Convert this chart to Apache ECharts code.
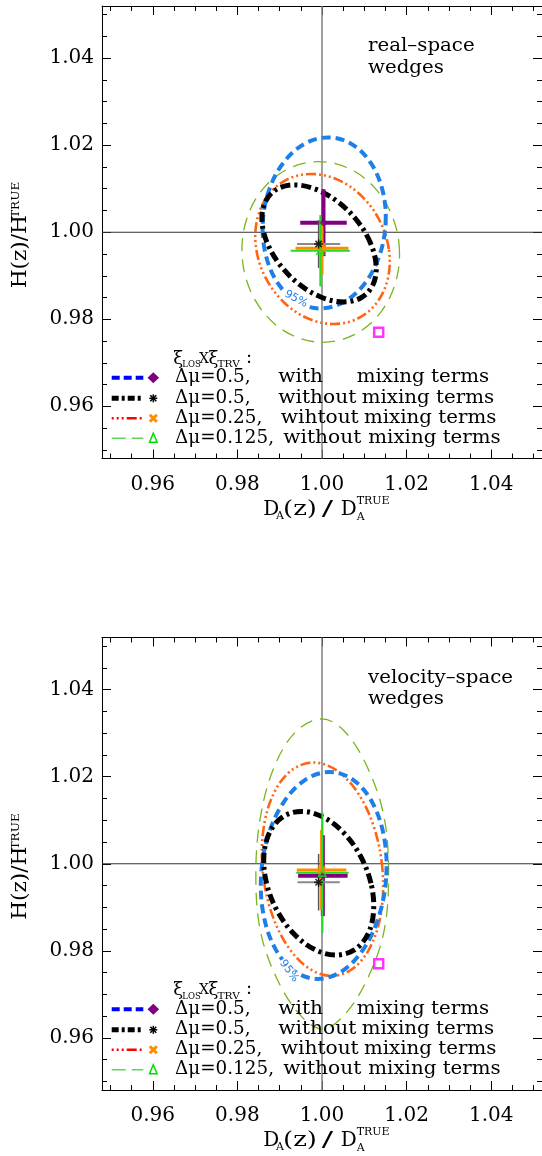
<!DOCTYPE html>
<html>
<head>
<meta charset="utf-8">
<script src="https://cdn.jsdelivr.net/npm/echarts@6/dist/echarts.min.js"></script>
<style>
  html, body { margin: 0; padding: 0; background: #ffffff; }
  #chart { width: 542px; height: 1156px; }
</style>
</head>
<body>
<div id="chart"></div>
<script>
// ---- axis ticks ----
const majorTicks = [0.96, 0.98, 1.00, 1.02, 1.04];
const minorTicks = [0.950, 0.955, 0.960, 0.965, 0.970, 0.975, 0.980, 0.985, 0.990, 0.995,
                    1.000, 1.005, 1.010, 1.015, 1.020, 1.025, 1.030, 1.035, 1.040, 1.045, 1.050];
const axisMin = 0.948;
const axisMax = 1.052;

// ---- 95% contours, real-space wedges: [D_A ratio, H ratio] ----
const realBlue = [[1.01504,1.00214],[1.01430,1.00966],[1.01145,1.01604],[1.00695,1.02030],[1.00146,1.02180],[0.99583,1.02030],[0.99092,1.01604],[0.98747,1.00966],[0.98600,1.00214],[0.98675,0.99462],[0.98959,0.98824],[0.99410,0.98398],[0.99958,0.98248],[1.00521,0.98398],[1.01012,0.98824],[1.01358,0.99462]];
const realBlack = [[1.01150,0.99743],[1.00835,1.00258],[1.00382,1.00694],[0.99860,1.00986],[0.99349,1.01088],[0.98926,1.00986],[0.98657,1.00694],[0.98581,1.00258],[0.98710,0.99743],[0.99025,0.99228],[0.99478,0.98792],[1.00000,0.98500],[1.00511,0.98398],[1.00934,0.98500],[1.01204,0.98792],[1.01280,0.99228]];
const realOrange = [[1.01579,0.99616],[1.01358,1.00276],[1.00933,1.00835],[1.00367,1.01209],[0.99747,1.01340],[0.99168,1.01209],[0.98717,1.00835],[0.98463,1.00276],[0.98445,0.99616],[0.98666,0.98956],[0.99091,0.98397],[0.99657,0.98023],[1.00277,0.97892],[1.00857,0.98023],[1.01307,0.98397],[1.01561,0.98956]];
const realGreen = [[1.01832,0.99547],[1.01672,1.00342],[1.01253,1.01015],[1.00639,1.01465],[0.99923,1.01623],[0.99214,1.01465],[0.98620,1.01015],[0.98232,1.00342],[0.98108,0.99547],[0.98268,0.98752],[0.98687,0.98079],[0.99301,0.97629],[1.00017,0.97471],[1.00726,0.97629],[1.01320,0.98079],[1.01708,0.98752]];

// ---- 95% contours, velocity-space wedges ----
const velBlue = [[1.01520,0.99731],[1.01461,1.00642],[1.01186,1.01413],[1.00736,1.01929],[1.00180,1.02110],[0.99603,1.01929],[0.99093,1.01413],[0.98726,1.00642],[0.98560,0.99731],[0.98619,0.98820],[0.98895,0.98049],[0.99344,0.97533],[0.99900,0.97352],[1.00477,0.97533],[1.00988,0.98049],[1.01354,0.98820]];
const velBlack = [[1.01157,0.99552],[1.00906,1.00184],[1.00506,1.00719],[1.00017,1.01077],[0.99513,1.01203],[0.99072,1.01077],[0.98761,1.00719],[0.98626,1.00184],[0.98689,0.99552],[0.98940,0.98920],[0.99340,0.98385],[0.99830,0.98027],[1.00333,0.97901],[1.00774,0.98027],[1.01086,0.98385],[1.01220,0.98920]];
const velOrange = [[1.01429,0.99874],[1.01238,1.00813],[1.00860,1.01609],[1.00353,1.02140],[0.99794,1.02327],[0.99268,1.02140],[0.98856,1.01609],[0.98619,1.00813],[0.98595,0.99874],[0.98786,0.98935],[0.99164,0.98139],[0.99671,0.97608],[1.00230,0.97421],[1.00756,0.97608],[1.01168,0.98139],[1.01405,0.98935]];
const velGreen = [[1.01574,0.99766],[1.01455,1.01130],[1.01040,1.02285],[1.00520,1.03058],[1.00005,1.03329],[0.99405,1.03058],[0.98896,1.02285],[0.98555,1.01130],[0.98436,0.99766],[0.98555,0.98402],[0.98990,0.97247],[0.99530,0.96474],[1.00005,0.96203],[1.00480,0.96474],[1.01020,0.97247],[1.01455,0.98402]];

// ---- best fits with 1-sigma errors: [x, y, xErr, yErr] ----
const realWithMix    = [1.00035, 1.00220, 0.00550, 0.00770];
const realNoMix05    = [0.99920, 0.99730, 0.00510, 0.00550];
const realNoMix025   = [1.00000, 0.99630, 0.00625, 0.00600];
const realNoMix0125  = [0.99960, 0.99575, 0.00700, 0.00820];
const velWithMix     = [1.00020, 0.99726, 0.00585, 0.00930];
const velNoMix05     = [0.99920, 0.99575, 0.00500, 0.00650];
const velNoMix025    = [0.99990, 0.99857, 0.00585, 0.00920];
const velNoMix0125   = [1.00010, 0.99795, 0.00620, 0.01380];

// ---- fiducial-cosmology point ----
const fiducialPoint = [1.0134, 0.9770];

// ---- text ----
const panelTitles = [['real\u2013space', 'wedges'], ['velocity\u2013space', 'wedges']];
const legendPrefix = ['\u0394\u03bc=0.5,', '\u0394\u03bc=0.5,', '\u0394\u03bc=0.25,', '\u0394\u03bc=0.125,'];
const legendMiddle = ['with', 'without', 'wihtout', 'without'];
const legendSuffix = ['mixing terms', 'mixing terms', 'mixing terms', 'mixing terms'];

// ---- styling ----
const FONT = '"DejaVu Serif", serif';
const C = {
  blue: '#1E80E6', black: '#000000', orange: '#FF6414', green: '#7AB41E',
  purple: '#800080', barOrange: '#FF8C00', barGreen: '#22DD22', grey: '#8A8A8A',
  magenta: '#FF00FF'
};
const GRID_TOP = [6, 637.5];
const GRID_H = 452.5;
const GRID_LEFT = 102;
const GRID_W = 444;

function xAxes(g) {
  const base = { type: 'value', gridIndex: g, min: axisMin, max: axisMax, splitLine: { show: false } };
  return [
    Object.assign({}, base, {
      position: 'bottom',
      axisLine: { show: true, onZero: false, lineStyle: { color: '#000', width: 1 } },
      axisTick: { show: true, inside: true, length: 9, customValues: majorTicks, lineStyle: { color: '#000', width: 1 } },
      axisLabel: { show: true, customValues: majorTicks, formatter: v => v.toFixed(2), margin: 16,
                   color: '#000', fontFamily: FONT, fontSize: 20 }
    }),
    Object.assign({}, base, {
      position: 'bottom',
      axisLine: { show: false, onZero: false },
      axisTick: { show: true, inside: true, length: 5, customValues: minorTicks, lineStyle: { color: '#000', width: 1 } },
      axisLabel: { show: false }
    }),
    Object.assign({}, base, {
      position: 'top',
      axisLine: { show: true, onZero: false, lineStyle: { color: '#000', width: 1 } },
      axisTick: { show: true, inside: true, length: 9, customValues: majorTicks, lineStyle: { color: '#000', width: 1 } },
      axisLabel: { show: false }
    }),
    Object.assign({}, base, {
      position: 'top',
      axisLine: { show: false, onZero: false },
      axisTick: { show: true, inside: true, length: 5, customValues: minorTicks, lineStyle: { color: '#000', width: 1 } },
      axisLabel: { show: false }
    })
  ];
}
function yAxes(g) {
  const base = { type: 'value', gridIndex: g, min: axisMin, max: axisMax, splitLine: { show: false } };
  return [
    Object.assign({}, base, {
      position: 'left',
      axisLine: { show: true, onZero: false, lineStyle: { color: '#000', width: 1 } },
      axisTick: { show: true, inside: true, length: 9, customValues: majorTicks, lineStyle: { color: '#000', width: 1 } },
      axisLabel: { show: true, customValues: majorTicks, formatter: v => v.toFixed(2), margin: 8,
                   color: '#000', fontFamily: FONT, fontSize: 20 }
    }),
    Object.assign({}, base, {
      position: 'left',
      axisLine: { show: false, onZero: false },
      axisTick: { show: true, inside: true, length: 5, customValues: minorTicks, lineStyle: { color: '#000', width: 1 } },
      axisLabel: { show: false }
    }),
    Object.assign({}, base, {
      position: 'right',
      axisLine: { show: true, onZero: false, lineStyle: { color: '#000', width: 1 } },
      axisTick: { show: true, inside: true, length: 9, customValues: majorTicks, lineStyle: { color: '#000', width: 1 } },
      axisLabel: { show: false }
    }),
    Object.assign({}, base, {
      position: 'right',
      axisLine: { show: false, onZero: false },
      axisTick: { show: true, inside: true, length: 5, customValues: minorTicks, lineStyle: { color: '#000', width: 1 } },
      axisLabel: { show: false }
    })
  ];
}

// closed, smoothed contour through the given points
function contourSeries(pts, g, color, width, dash) {
  return {
    type: 'custom', xAxisIndex: 4 * g, yAxisIndex: 4 * g, data: pts, z: 3, silent: true, clip: true,
    renderItem: (params, api) => {
      if (params.dataIndex !== 0) return null;
      const points = pts.map(p => api.coord(p));
      return {
        type: 'polygon',
        shape: { points: points, smooth: 0.35 },
        style: { fill: 'none', stroke: color, lineWidth: width, lineDash: dash }
      };
    }
  };
}

// horizontal and vertical error bars around a best fit
function crossSeries(rec, g, hColor, hWidth, vColor, vWidth) {
  return {
    type: 'custom', xAxisIndex: 4 * g, yAxisIndex: 4 * g, data: [rec], z: 4, silent: true,
    dimensions: ['x', 'y', 'ex', 'ey'], encode: { x: 0, y: 1 },
    renderItem: (params, api) => {
      const x = api.value(0), y = api.value(1), ex = api.value(2), ey = api.value(3);
      const l = api.coord([x - ex, y]), r = api.coord([x + ex, y]);
      const t = api.coord([x, y + ey]), b = api.coord([x, y - ey]);
      return {
        type: 'group',
        children: [
          { type: 'line', shape: { x1: t[0], y1: t[1], x2: b[0], y2: b[1] }, style: { stroke: vColor, lineWidth: vWidth } },
          { type: 'line', shape: { x1: l[0], y1: l[1], x2: r[0], y2: r[1] }, style: { stroke: hColor, lineWidth: hWidth } }
        ]
      };
    }
  };
}

const STAR = 'path://M5 0L5 10M0 5L10 5M1.5 1.5L8.5 8.5M8.5 1.5L1.5 8.5';
const XMARK = 'path://M0 0L10 10M10 0L0 10';

function markerSeries(rec, g, symbol, size, style) {
  return {
    type: 'scatter', xAxisIndex: 4 * g, yAxisIndex: 4 * g, z: 5, silent: true,
    data: [[rec[0], rec[1]]], symbol: symbol, symbolSize: size, itemStyle: style
  };
}

function refLines(g) {
  return [
    { type: 'line', xAxisIndex: 4 * g, yAxisIndex: 4 * g, z: 1, silent: true, showSymbol: false,
      data: [[1.0, axisMin], [1.0, axisMax]], lineStyle: { color: '#808080', width: 1.5 } },
    { type: 'line', xAxisIndex: 4 * g, yAxisIndex: 4 * g, z: 1, silent: true, showSymbol: false,
      data: [[axisMin, 1.0], [axisMax, 1.0]], lineStyle: { color: '#333333', width: 1 } }
  ];
}

const panels = [
  { contours: [realGreen, realOrange, realBlue, realBlack],
    fits: [realWithMix, realNoMix05, realNoMix025, realNoMix0125] },
  { contours: [velGreen, velOrange, velBlue, velBlack],
    fits: [velWithMix, velNoMix05, velNoMix025, velNoMix0125] }
];

const series = [];
panels.forEach((p, g) => {
  series.push(...refLines(g));
  series.push(contourSeries(p.contours[0], g, C.green, 1.3, [13, 8]));
  series.push(contourSeries(p.contours[1], g, C.orange, 2.6, [10, 3, 2, 3, 2, 3, 2, 3]));
  series.push(contourSeries(p.contours[2], g, C.blue, 4, [9, 5]));
  series.push(contourSeries(p.contours[3], g, C.black, 5, [10, 4, 3, 4]));
  series.push(crossSeries(p.fits[0], g, C.purple, 4, C.purple, 4));
  series.push(crossSeries(p.fits[1], g, C.grey, 2, '#555555', 1.5));
  series.push(crossSeries(p.fits[2], g, C.barOrange, 3, C.barOrange, 3));
  series.push(crossSeries(p.fits[3], g, C.barGreen, 2, C.barGreen, 2));
  series.push(markerSeries(p.fits[0], g, 'diamond', 8, { color: C.purple }));
  series.push(markerSeries(p.fits[2], g, XMARK, 7, { color: C.barOrange, borderColor: C.barOrange, borderWidth: 2.5 }));
  series.push(markerSeries(p.fits[3], g, 'triangle', 7, { color: 'rgba(0,0,0,0)', borderColor: C.barGreen, borderWidth: 1.5 }));
  series.push(markerSeries(p.fits[1], g, STAR, 9, { color: '#000', borderColor: '#000', borderWidth: 1.5 }));
  series.push(markerSeries(fiducialPoint, g, 'rect', 9, { color: '#ffffff', borderColor: C.magenta, borderWidth: 2.5 }));
});

// ---- annotations ----
function txt(x, y, s, size, opts) {
  opts = opts || {};
  const style = { text: s, font: (opts.style || '') + ' ' + size + 'px ' + (opts.family || FONT),
                  fill: opts.color || '#000', textAlign: opts.align || 'left', textVerticalAlign: 'middle' };
  if (opts.bg) { style.backgroundColor = opts.bg; style.padding = [0, 1]; }
  return {
    type: 'text', x: x, y: y, rotation: opts.rot || 0, scaleX: opts.sx || 1, z: 100, silent: true,
    style: style
  };
}
function seg(x1, y1, x2, y2, color, w, dash) {
  return { type: 'line', z: 100, silent: true, shape: { x1, y1, x2, y2 },
           style: { stroke: color, lineWidth: w, lineDash: dash || null } };
}

const graphics = [];
GRID_TOP.forEach((top, g) => {
  const dy = top - GRID_TOP[0];
  // panel label
  graphics.push(txt(368, 46.7 + dy, panelTitles[g][0], 18, { sx: 1.1 }));
  graphics.push(txt(368, 68.3 + dy, panelTitles[g][1], 18, { sx: 1.1 }));
  // y-axis title
  graphics.push(txt(21, 288.3 + dy, 'H(z)/H', 20, { rot: Math.PI / 2, sx: 1.08 }));
  graphics.push(txt(16, 218 + dy, 'TRUE', 11, { rot: Math.PI / 2, sx: 1.1 }));
  // x-axis title
  graphics.push(txt(263.3, 509.3 + dy, 'D', 20));
  graphics.push(txt(276, 516 + dy, 'A', 11));
  graphics.push(txt(283, 509.3 + dy, '(z)', 20, { sx: 1.3 }));
  graphics.push(txt(327.3, 509.3 + dy, '/', 21, { align: 'center', sx: 1.6 }));
  graphics.push(txt(340.7, 509.3 + dy, 'D', 20));
  graphics.push(txt(356.7, 501 + dy, 'TRUE', 11));
  graphics.push(txt(356.7, 517 + dy, 'A', 11));
  // legend header
  graphics.push(txt(173.3, 359 + dy, '\u03be', 18));
  graphics.push(txt(182.3, 365 + dy, 'LOS', 8.5));
  graphics.push(txt(199, 359 + dy, 'X', 14));
  graphics.push(txt(208.5, 359 + dy, '\u03be', 18));
  graphics.push(txt(217.5, 365 + dy, 'TRV', 8.5, { sx: 1.25 }));
  graphics.push(txt(246, 358 + dy, ':', 18));
  // legend rows
  const rowY = [377.7, 398.3, 418.3, 438.3].map(v => v + dy);
  const midX = [278.3, 278.3, 280.7, 283.3];
  const sufX = [356.7, 361.7, 364, 368.3];
  rowY.forEach((y, i) => {
    graphics.push(txt(175, y, legendPrefix[i], 18, { sx: 1.02 }));
    graphics.push(txt(midX[i], y, legendMiddle[i], 18, { sx: 1.12 }));
    graphics.push(txt(sufX[i], y, legendSuffix[i], 18, { sx: 1.1 }));
  });
  graphics.push(seg(111.7, rowY[0], 143.3, rowY[0], '#0000FF', 4, [8, 4]));
  graphics.push(seg(111.7, rowY[1], 143.3, rowY[1], '#000000', 5, [7, 3, 3, 3]));
  graphics.push(seg(111.7, rowY[2], 143.3, rowY[2], '#FF0000', 2.5, [2, 3, 2, 3, 2, 3, 10, 3]));
  graphics.push(seg(111.7, rowY[3], 143.3, rowY[3], '#5CD65C', 1.5, [14, 6]));
  const mx = 153.3;
  graphics.push({ type: 'polygon', z: 100, silent: true,
    shape: { points: [[mx, rowY[0] - 5.5], [mx + 5.8, rowY[0]], [mx, rowY[0] + 5.5], [mx - 5.8, rowY[0]]] },
    style: { fill: C.purple } });
  graphics.push(seg(mx, rowY[1] - 4, mx, rowY[1] + 4, '#000', 1.5));
  graphics.push(seg(mx - 4, rowY[1], mx + 4, rowY[1], '#000', 1.5));
  graphics.push(seg(mx - 3, rowY[1] - 3, mx + 3, rowY[1] + 3, '#000', 1.5));
  graphics.push(seg(mx + 3, rowY[1] - 3, mx - 3, rowY[1] + 3, '#000', 1.5));
  graphics.push(seg(mx - 3.5, rowY[2] - 3.5, mx + 3.5, rowY[2] + 3.5, C.barOrange, 3));
  graphics.push(seg(mx + 3.5, rowY[2] - 3.5, mx - 3.5, rowY[2] + 3.5, C.barOrange, 3));
  graphics.push({ type: 'polygon', z: 100, silent: true,
    shape: { points: [[mx, rowY[3] - 5], [mx + 3.8, rowY[3] + 4], [mx - 3.8, rowY[3] + 4]] },
    style: { fill: 'none', stroke: '#00DD00', lineWidth: 1.5 } });
});
// contour confidence labels
graphics.push(txt(296, 299, '95%', 11, { rot: -0.5, color: C.blue, family: '"DejaVu Sans", sans-serif', align: 'center', bg: '#ffffff' }));
graphics.push(txt(289, 971, '95%', 11, { rot: -0.95, color: C.blue, family: '"DejaVu Sans", sans-serif', align: 'center', bg: '#ffffff' }));

const option = {
  animation: false,
  backgroundColor: '#ffffff',
  grid: GRID_TOP.map(top => ({ left: GRID_LEFT, top: top, width: GRID_W, height: GRID_H })),
  xAxis: [...xAxes(0), ...xAxes(1)],
  yAxis: [...yAxes(0), ...yAxes(1)],
  series: series,
  graphic: { elements: graphics }
};

const chart = echarts.init(document.getElementById('chart'), null, { renderer: 'canvas', width: 542, height: 1156 });
chart.setOption(option);
</script>
</body>
</html>
